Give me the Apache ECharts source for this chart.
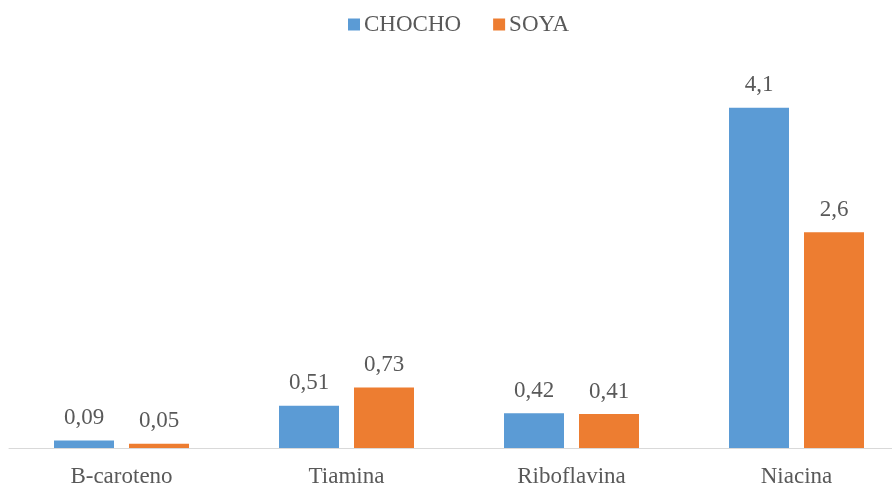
<!DOCTYPE html>
<html>
<head>
<meta charset="utf-8">
<script src="https://cdn.jsdelivr.net/npm/echarts@6/dist/echarts.min.js"></script>
<style>
  html, body { margin: 0; padding: 0; background: #fff; overflow: hidden; }
  /* the drawing runs a little past the right edge of the window */
  #chart { width: 909px; height: 488px; }
</style>
</head>
<body>
<div id="chart"></div>
<script>
// Vitamin content by legume
const categories = ['B-caroteno', 'Tiamina', 'Riboflavina', 'Niacina'];
const chocho = [0.09, 0.51, 0.42, 4.1];
const soya = [0.05, 0.73, 0.41, 2.6];

const FONT = '"Liberation Serif", "Times New Roman", serif';
const TEXT = '#595959';
const SIZE = 23;

// decimal comma, as printed on the labels
const fmt = v => String(v).replace('.', ',');

const labelStyle = {
  show: true,
  position: 'top',
  distance: 11,
  color: TEXT,
  fontFamily: FONT,
  fontSize: SIZE,
  formatter: p => fmt(p.value)
};

const chart = echarts.init(document.getElementById('chart'), null, { renderer: 'canvas' });
chart.setOption({
  animation: false,
  textStyle: { fontFamily: FONT },
  legend: {
    top: 13,
    left: 348,
    padding: 0,
    itemWidth: 12,
    itemHeight: 12,
    itemGap: 32,
    icon: 'rect',
    textStyle: { color: TEXT, fontFamily: FONT, fontSize: SIZE, padding: [0, 0, 0, -1] },
    data: ['CHOCHO', 'SOYA']
  },
  grid: { left: 9, right: 0, top: 33, bottom: 40, containLabel: false },
  xAxis: {
    type: 'category',
    data: categories,
    axisLine: { show: true, lineStyle: { color: '#D9D9D9', width: 1 } },
    axisTick: { show: false },
    axisLabel: { color: TEXT, fontFamily: FONT, fontSize: SIZE, margin: 17 }
  },
  yAxis: {
    type: 'value',
    min: 0,
    max: 5,
    show: false,
    splitLine: { show: false }
  },
  series: [
    {
      name: 'CHOCHO',
      type: 'bar',
      data: chocho,
      barWidth: 60,
      barGap: '25%',
      itemStyle: { color: '#5B9BD5' },
      label: labelStyle
    },
    {
      name: 'SOYA',
      type: 'bar',
      data: soya,
      barWidth: 60,
      barGap: '25%',
      itemStyle: { color: '#ED7D31' },
      label: labelStyle
    }
  ]
});
</script>
</body>
</html>
